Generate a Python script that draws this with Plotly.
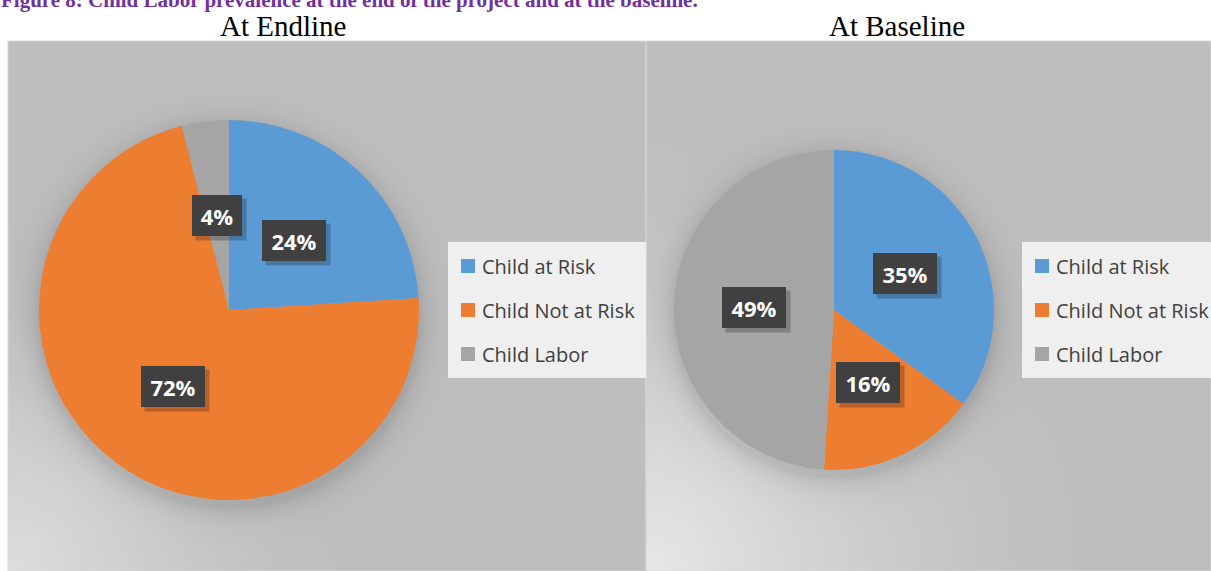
import base64, struct, zlib
import numpy as np
import plotly.graph_objects as go

# ---------------- data ----------------
categories = ["Child at Risk", "Child Not at Risk", "Child Labor"]
endline_values = [24, 72, 4]
baseline_values = [35, 16, 49]
panel_titles = ["At Endline", "At Baseline"]
figure_title = "Figure 8: Child Labor prevalence at the end of the project and at the baseline."
colors = ["#5B9BD5", "#ED7D31", "#A5A5A5"]

W, H = 1211, 571

# pie geometry (pixels): center x, center y, radius
pies = [
    dict(values=endline_values, cx=229, cy=310, r=190),
    dict(values=baseline_values, cx=834, cy=310, r=160),
]
panels = [dict(x0=8, x1=646, y0=41, y1=571, light=222, R=330),
          dict(x0=646, x1=1211, y0=41, y1=571, light=232, R=430)]
legends = [dict(x0=448, x1=646, y0=242, y1=378, mx=461),
           dict(x0=1022, x1=1213, y0=242, y1=378, mx=1035)]


def png_uri(arr):
    h, w, _ = arr.shape
    raw = b"".join(b"\x00" + arr[y].tobytes() for y in range(h))

    def chunk(t, d):
        return struct.pack(">I", len(d)) + t + d + struct.pack(">I", zlib.crc32(t + d) & 0xffffffff)

    png = (b"\x89PNG\r\n\x1a\n" + chunk(b"IHDR", struct.pack(">IIBBBBB", w, h, 8, 2, 0, 0, 0))
           + chunk(b"IDAT", zlib.compress(raw, 9)) + chunk(b"IEND", b""))
    return "data:image/png;base64," + base64.b64encode(png).decode()


def px(x):
    return x / W


def py(y):
    return 1 - y / H


fig = go.Figure()
images = []
shapes = []
annotations = []

for p, pie, lg in zip(panels, pies, legends):
    w, h = p["x1"] - p["x0"], p["y1"] - p["y0"]
    X, Y = np.meshgrid(np.arange(w) + p["x0"] + 0.5, np.arange(h) + p["y0"] + 0.5)
    base = 191.0
    d = np.hypot(X - p["x0"], Y - p["y1"])
    light = (p["light"] - base) * np.clip(1 - d / p["R"], 0, 1) ** 1.4
    dp = np.hypot(X - pie["cx"], Y - (pie["cy"] + 7)) - pie["r"]
    shadow = 26 * np.exp(-np.clip(dp, 0, None) / 13)
    val = np.clip(base + light - shadow, 0, 255).astype(np.uint8)
    arr = np.stack([val, val, val], axis=-1)
    images.append(dict(source=png_uri(arr), xref="paper", yref="paper",
                       x=px(p["x0"]), y=py(p["y0"]), sizex=px(w), sizey=h / H,
                       xanchor="left", yanchor="top", sizing="stretch", layer="below"))
    shapes.append(dict(type="rect", xref="paper", yref="paper",
                       x0=px(p["x0"]), x1=px(p["x1"]), y0=py(p["y1"]), y1=py(p["y0"]),
                       line=dict(color="#d6d6d6", width=1), fillcolor="rgba(0,0,0,0)", layer="below"))

    # legend box
    shapes.append(dict(type="rect", xref="paper", yref="paper",
                       x0=px(lg["x0"]), x1=px(lg["x1"]), y0=py(lg["y1"]), y1=py(lg["y0"]),
                       line=dict(width=0), fillcolor="#efefef"))
    for i, (cat, col) in enumerate(zip(categories, colors)):
        yc = 266 + 44 * i
        shapes.append(dict(type="rect", xref="paper", yref="paper",
                           x0=px(lg["mx"]), x1=px(lg["mx"] + 14), y0=py(yc + 7), y1=py(yc - 7),
                           line=dict(width=0), fillcolor=col))
        annotations.append(dict(text=cat, xref="paper", yref="paper", x=px(lg["mx"] + 19), y=py(yc),
                                xanchor="left", yanchor="middle", showarrow=False,
                                font=dict(family="Open Sans", size=20, color="#404040")))

for k, pie in enumerate(pies):
    cx, cy, r = pie["cx"], pie["cy"], pie["r"]
    fig.add_trace(go.Pie(
        labels=categories, values=pie["values"], sort=False, direction="clockwise", rotation=0,
        marker=dict(colors=colors, line=dict(width=0)), textinfo="none", hoverinfo="skip",
        showlegend=False,
        domain=dict(x=[px(cx - r), px(cx + r)], y=[py(cy + r), py(cy - r)]),
    ))
    total = sum(pie["values"])
    cum = 0
    for v in pie["values"]:
        mid = (cum + v / 2) / total * 2 * np.pi
        cum += v
        lx = cx + 0.5 * r * np.sin(mid)
        ly = cy - 0.5 * r * np.cos(mid)
        txt = f"{round(v / total * 100)}%"
        bw = 52 if len(txt) == 3 else 38
        # shadow
        annotations.append(dict(text=" ", xref="paper", yref="paper", x=px(lx + 4), y=py(ly + 4),
                                xanchor="center", yanchor="middle", showarrow=False,
                                width=bw, height=29, borderpad=6, bgcolor="rgba(0,0,0,0.22)",
                                font=dict(size=22)))
        annotations.append(dict(text=f"<b>{txt}</b>", xref="paper", yref="paper", x=px(lx), y=py(ly),
                                xanchor="center", yanchor="middle", showarrow=False,
                                width=bw, height=29, borderpad=6, bgcolor="#404040",
                                bordercolor="#4a4a4a", borderwidth=0,
                                font=dict(family="Open Sans", size=22, color="white")))

# titles
annotations.append(dict(text=f"<b>{figure_title}</b>", xref="paper", yref="paper", x=px(-1), y=py(0),
                        xanchor="left", yanchor="middle", showarrow=False,
                        font=dict(family="Liberation Serif", size=21, color="#7030A0")))
for t, xc in zip(panel_titles, [283, 897]):
    annotations.append(dict(text=t, xref="paper", yref="paper", x=px(xc), y=py(26),
                            xanchor="center", yanchor="middle", showarrow=False,
                            font=dict(family="Liberation Serif", size=29, color="black")))

fig.update_layout(width=W, height=H, margin=dict(l=0, r=0, t=0, b=0),
                  paper_bgcolor="white", plot_bgcolor="white", showlegend=False,
                  images=images, shapes=shapes, annotations=annotations)

fig.write_html("out.html", config={"displayModeBar": False},
               post_script="document.body.style.margin='0';document.body.style.padding='0';")
